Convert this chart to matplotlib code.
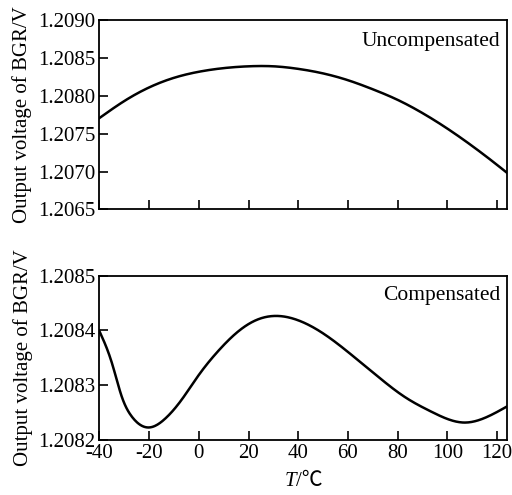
import matplotlib
matplotlib.use("Agg")
import matplotlib.pyplot as plt
from matplotlib.offsetbox import TextArea, HPacker, AnchoredOffsetbox
import numpy as np

plt.rcParams['font.family'] = ['Liberation Serif', 'DejaVu Serif']
plt.rcParams['axes.unicode_minus'] = False

# Uncompensated curve
T_unc = [-40, -30, -20, -10, 0, 10, 20, 30, 40, 50, 60, 70, 80, 90, 100, 110, 120, 124.2]
V_unc = [1.207710, 1.207935, 1.208115, 1.208242, 1.208322, 1.208370, 1.208394, 1.208394,
         1.208360, 1.208300, 1.208210, 1.208090, 1.207950, 1.207775, 1.207570, 1.207340,
         1.207090, 1.206980]

# Compensated curve
T_comp = [-40, -35, -31, -27, -20.3, -13.6, -6.9, -0.2, 7.8, 15.9, 23.9, 31.9, 40, 50.7,
          61.4, 72.1, 82.8, 93.5, 106.9, 116.3, 124.2]
V_comp = [1.208398, 1.20834, 1.208278, 1.208242, 1.208222, 1.208238, 1.208273, 1.208317,
          1.208362, 1.208398, 1.20842, 1.208426, 1.208418, 1.208392, 1.208355, 1.208315,
          1.208278, 1.208251, 1.208231, 1.208242, 1.208261]

xticks = [-40, -20, 0, 20, 40, 60, 80, 100, 120]
yticks_top = [1.2065, 1.2070, 1.2075, 1.2080, 1.2085, 1.2090]
yticks_bot = [1.2082, 1.2083, 1.2084, 1.2085]


def spline(x, y, n=500):
    """Natural cubic spline through the read points (drawing only)."""
    x = np.asarray(x, float); y = np.asarray(y, float)
    k = len(x); h = np.diff(x)
    A = np.zeros((k, k)); b = np.zeros(k)
    A[0, 0] = A[-1, -1] = 1
    for i in range(1, k - 1):
        A[i, i - 1] = h[i - 1]; A[i, i] = 2 * (h[i - 1] + h[i]); A[i, i + 1] = h[i]
        b[i] = 3 * ((y[i + 1] - y[i]) / h[i] - (y[i] - y[i - 1]) / h[i - 1])
    c = np.linalg.solve(A, b)
    bb = (y[1:] - y[:-1]) / h - h * (2 * c[:-1] + c[1:]) / 3
    d = (c[1:] - c[:-1]) / (3 * h)
    xs = np.linspace(x[0], x[-1], n)
    idx = np.clip(np.searchsorted(x, xs) - 1, 0, k - 2)
    dx = xs - x[idx]
    ys = y[idx] + bb[idx] * dx + c[idx] * dx ** 2 + d[idx] * dx ** 3
    return xs, ys


fig = plt.figure(figsize=(5.12, 4.95), dpi=100)
ax1 = fig.add_axes([0.1943, 0.5768, 0.7969, 0.3818])
ax2 = fig.add_axes([0.1943, 0.1121, 0.7969, 0.3313])

fs = 15
for ax in (ax1, ax2):
    for s in ax.spines.values():
        s.set_linewidth(1.3)
    ax.tick_params(direction='in', length=6.5, width=1.2, labelsize=fs, pad=3)
    ax.set_xlim(-40, 124.2)
    ax.set_xticks(xticks)
    ax.set_ylabel('Output voltage of BGR/V', fontsize=fs, labelpad=4)

xs, ys = spline(T_unc, V_unc)
ax1.plot(xs, ys, color='black', lw=1.8)
ax1.set_ylim(1.2065, 1.2090)
ax1.set_yticks(yticks_top)
ax1.set_yticklabels(['%.4f' % v for v in yticks_top])
ax1.tick_params(labelbottom=False)
ax1.text(0.983, 0.94, 'Uncompensated', transform=ax1.transAxes, ha='right', va='top',
         fontsize=15.5)

xs, ys = spline(T_comp, V_comp)
ax2.plot(xs, ys, color='black', lw=1.8)
ax2.set_ylim(1.2082, 1.2085)
ax2.set_yticks(yticks_bot)
ax2.set_yticklabels(['%.4f' % v for v in yticks_bot])
ax2.set_xticklabels([str(v) for v in xticks])
ax2.text(0.983, 0.935, 'Compensated', transform=ax2.transAxes, ha='right', va='top',
         fontsize=15.5)

# x-axis label "T/℃" with italic T
ta1 = TextArea('T', textprops=dict(family='Liberation Serif', style='italic', size=fs))
ta2 = TextArea('/℃', textprops=dict(family=['Liberation Serif', 'Noto Sans CJK SC'], size=fs))
box = HPacker(children=[ta1, ta2], align='baseline', pad=0, sep=0)
anch = AnchoredOffsetbox(loc='upper center', child=box, pad=0, borderpad=0, frameon=False,
                         bbox_to_anchor=(0.5, -0.2), bbox_transform=ax2.transAxes)
ax2.add_artist(anch)

fig.savefig('out.png', dpi=100)
